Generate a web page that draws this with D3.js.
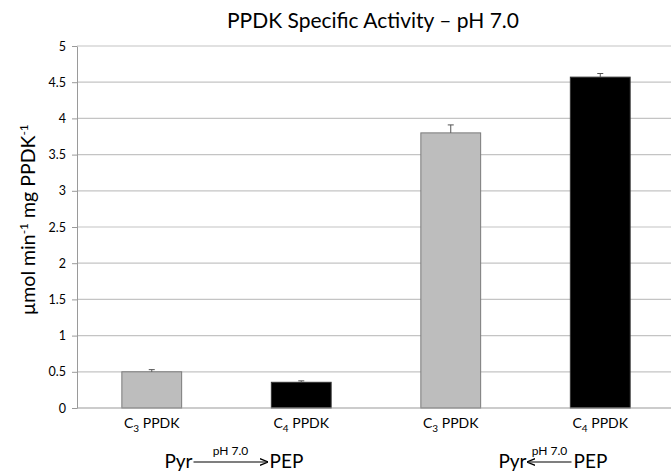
<!DOCTYPE html>
<html>
<head>
<meta charset="utf-8">
<script src="https://cdn.jsdelivr.net/npm/d3@7"></script>
<style>
  body { margin: 0; background: #fff; }
  svg text { font-family: Lato, "Open Sans", sans-serif; fill: #000; }
</style>
</head>
<body>
<div id="chart"></div>
<script>
// values
const categories = ["a", "b", "c", "d"];
const enzymes = ["3", "4", "3", "4"];      // C3 / C4 subscript
const activity = [0.50, 0.355, 3.80, 4.57];
const errors = [0.03, 0.02, 0.11, 0.05];
const yTicks = [0, 0.5, 1, 1.5, 2, 2.5, 3, 3.5, 4, 4.5, 5];
const reactions = [
    {from: "Pyr", to: "PEP", forward: true},
    {from: "Pyr", to: "PEP", forward: false}
];

const width = 671, height = 473;
const margin = {top: 46, right: -4, bottom: 65, left: 77};

const svg = d3.select("#chart").append("svg")
    .attr("width", width)
    .attr("height", height);

const x = d3.scaleBand()
    .domain(categories)
    .range([margin.left, width - margin.right])
    .paddingInner(0.6)
    .paddingOuter(0.3);

const y = d3.scaleLinear()
    .domain([0, 5])
    .range([height - margin.bottom, margin.top]);

const fillFor = e => e === "3" ? "#bdbdbd" : "#000";
const strokeFor = e => e === "3" ? "#7a7a7a" : "#333";

// gridlines
svg.append("g")
    .selectAll("line")
    .data(yTicks.filter(d => d > 0))
    .enter().append("line")
    .attr("x1", margin.left)
    .attr("x2", width)
    .attr("y1", d => y(d))
    .attr("y2", d => y(d))
    .attr("stroke", "#c4c4c4")
    .attr("stroke-width", 1.2);

// y axis
const yAxis = svg.append("g")
    .attr("transform", `translate(${margin.left},0)`)
    .call(d3.axisLeft(y).tickValues(yTicks).tickSize(5).tickSizeOuter(0).tickPadding(6)
        .tickFormat(d => String(d)));
yAxis.select(".domain").attr("stroke", "#9a9a9a");
yAxis.selectAll(".tick line").attr("stroke", "#9a9a9a");
yAxis.selectAll(".tick text")
    .style("font-size", "12.5px")
    .style("font-family", "Lato, 'Open Sans', sans-serif")
    .attr("fill", "#222");

// bars
svg.append("g")
    .selectAll("rect")
    .data(categories)
    .enter().append("rect")
    .attr("x", d => x(d))
    .attr("width", x.bandwidth())
    .attr("y", (d, i) => y(activity[i]))
    .attr("height", (d, i) => y(0) - y(activity[i]))
    .attr("fill", (d, i) => fillFor(enzymes[i]))
    .attr("stroke", (d, i) => strokeFor(enzymes[i]))
    .attr("stroke-width", 1);

// error bars (upper only)
const eb = svg.append("g")
    .selectAll("g")
    .data(categories)
    .enter().append("g")
    .attr("stroke", "#555")
    .attr("stroke-width", 1);
eb.append("line")
    .attr("x1", d => x(d) + x.bandwidth() / 2)
    .attr("x2", d => x(d) + x.bandwidth() / 2)
    .attr("y1", (d, i) => y(activity[i]))
    .attr("y2", (d, i) => y(activity[i] + errors[i]));
eb.append("line")
    .attr("x1", d => x(d) + x.bandwidth() / 2 - 3)
    .attr("x2", d => x(d) + x.bandwidth() / 2 + 3)
    .attr("y1", (d, i) => y(activity[i] + errors[i]))
    .attr("y2", (d, i) => y(activity[i] + errors[i]));

// x axis line
svg.append("line")
    .attr("x1", margin.left)
    .attr("x2", width)
    .attr("y1", y(0))
    .attr("y2", y(0))
    .attr("stroke", "#9a9a9a")
    .attr("stroke-width", 1.2);

// category labels C3 PPDK / C4 PPDK
const lab = svg.append("g")
    .selectAll("text")
    .data(categories)
    .enter().append("text")
    .attr("x", d => x(d) + x.bandwidth() / 2)
    .attr("y", y(0) + 20)
    .attr("text-anchor", "middle")
    .style("font-size", "14px");
lab.append("tspan").text("C");
lab.append("tspan").attr("dy", 4).style("font-size", "10px").text((d, i) => enzymes[i]);
lab.append("tspan").attr("dy", -4).text(" PPDK");

// reaction annotations under each pair
svg.append("defs").append("marker")
    .attr("id", "arrowhead")
    .attr("viewBox", "0 0 10 10")
    .attr("refX", 9).attr("refY", 5)
    .attr("markerWidth", 7).attr("markerHeight", 7)
    .attr("orient", "auto-start-reverse")
    .append("path")
    .attr("d", "M0,1 L10,5 L0,9")
    .attr("fill", "none")
    .attr("stroke", "#000")
    .attr("stroke-width", 1.6);

reactions.forEach((r, k) => {
    const c1 = x(categories[2 * k]) + x.bandwidth() / 2;
    const c2 = x(categories[2 * k + 1]) + x.bandwidth() / 2;
    const mid = (c1 + c2) / 2;
    const half = r.forward ? 37 : 22;
    const cx = r.forward ? mid + 4 : mid + 24;
    const g = svg.append("g");
    const ay = 462;
    g.append("text")
        .attr("x", cx - half - 1).attr("y", ay + 6)
        .attr("text-anchor", "end")
        .style("font-size", "19px")
        .text(r.from);
    g.append("text")
        .attr("x", cx + half + 2).attr("y", ay + 6)
        .attr("text-anchor", "start")
        .style("font-size", "19px")
        .text(r.to);
    const line = g.append("line")
        .attr("x1", cx - half).attr("x2", cx + half)
        .attr("y1", ay).attr("y2", ay)
        .attr("stroke", "#000")
        .attr("stroke-width", 1.2);
    if (r.forward) line.attr("marker-end", "url(#arrowhead)");
    else line.attr("marker-start", "url(#arrowhead)");
    g.append("text")
        .attr("x", cx).attr("y", ay - 7)
        .attr("text-anchor", "middle")
        .style("font-size", "12px")
        .text("pH 7.0");
});

// title
svg.append("text")
    .attr("x", 373)
    .attr("y", 28)
    .attr("text-anchor", "middle")
    .style("font-size", "21px")
    .text("PPDK Specific Activity – pH 7.0");

// y label
const yl = svg.append("text")
    .attr("transform", `translate(35,${y(2.6)}) rotate(-90)`)
    .attr("text-anchor", "middle")
    .style("font-size", "19.5px");
yl.append("tspan").text("µmol min");
yl.append("tspan").attr("dy", -7).style("font-size", "12px").text("-1");
yl.append("tspan").attr("dy", 7).text(" mg PPDK");
yl.append("tspan").attr("dy", -7).style("font-size", "12px").text("-1");
</script>
</body>
</html>
